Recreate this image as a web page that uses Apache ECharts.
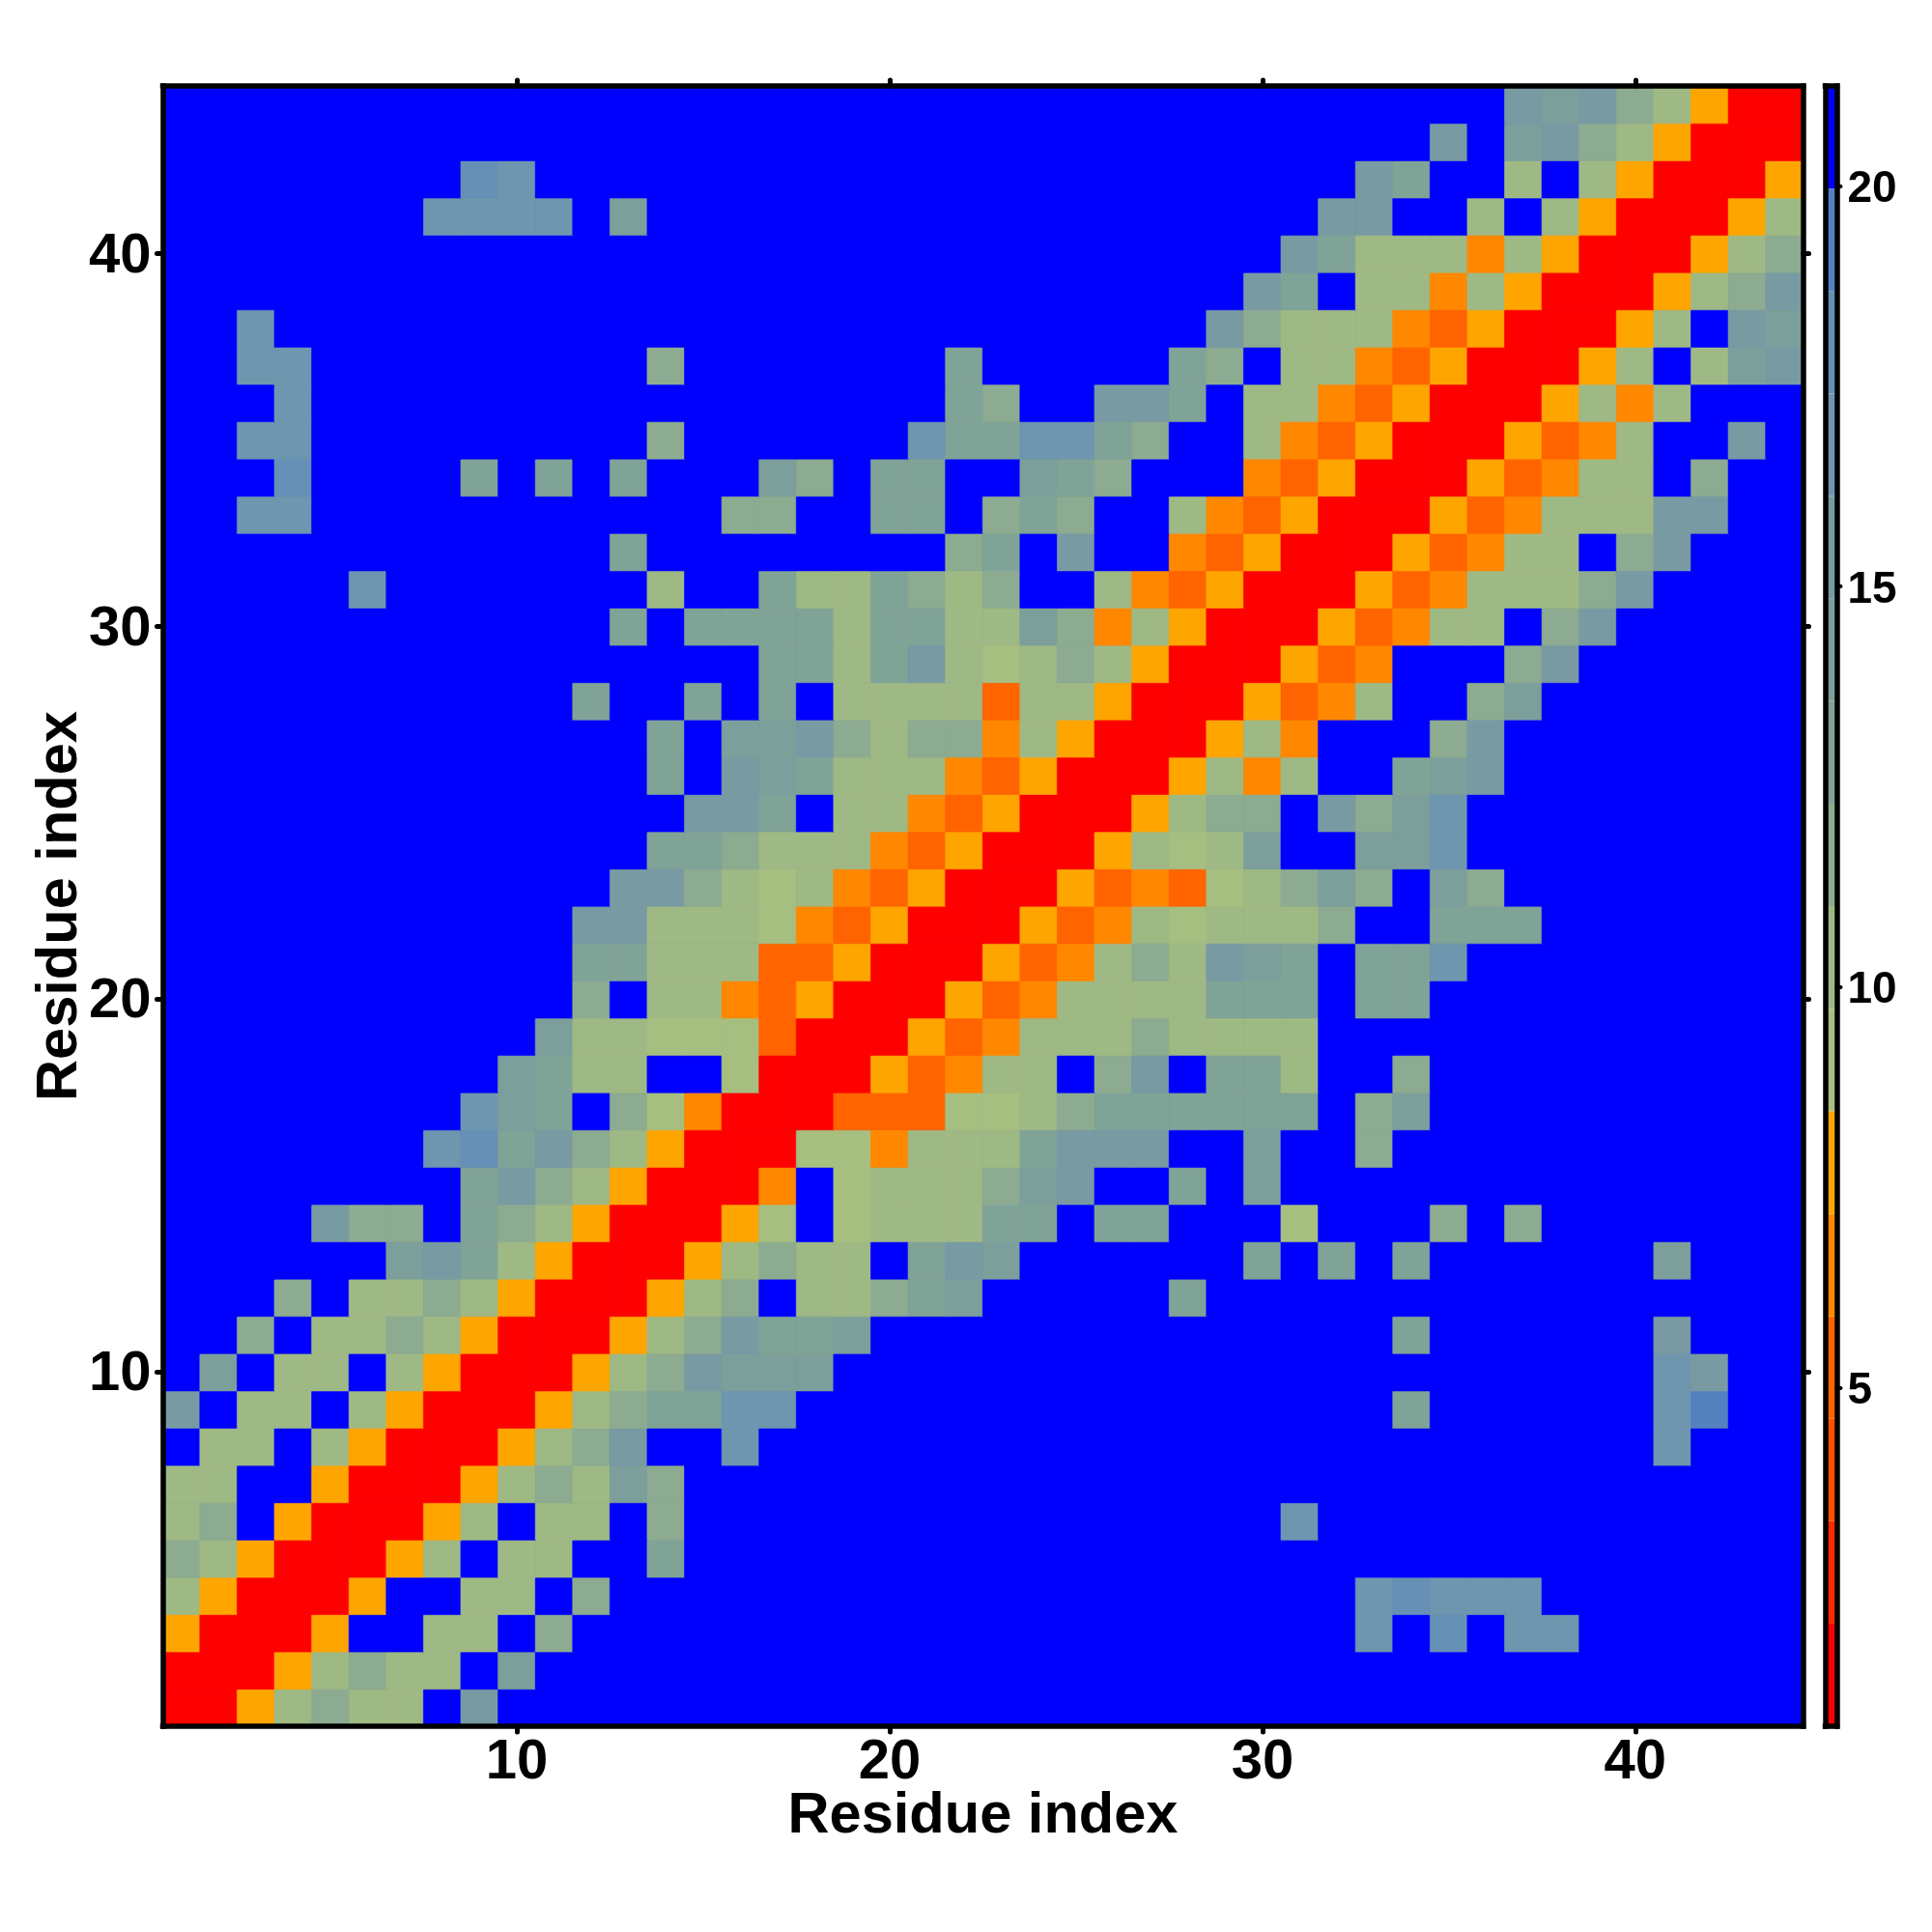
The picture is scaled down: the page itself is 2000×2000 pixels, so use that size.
<!DOCTYPE html>
<html>
<head>
<meta charset="utf-8">
<script src="https://cdn.jsdelivr.net/npm/echarts@6/dist/echarts.min.js"></script>
<style>html,body{margin:0;padding:0;background:#fff}#c{width:2000px;height:2000px}</style>
</head>
<body>
<div id="c"></div>
<script>
const b = 21;
// Distance map rows, read top (residue 44) to bottom (residue 1)
const y44=[b,b,b,b,b,b,b,b,b,b, b,b,b,b,b,b,b,b,b,b, b,b,b,b,b,b,b,b,b,b, b,b,b,b,b,b,15,14,15,12, 10,8,1,1];
const y43=[b,b,b,b,b,b,b,b,b,b, b,b,b,b,b,b,b,b,b,b, b,b,b,b,b,b,b,b,b,b, b,b,b,b,15,b,14,15,12,10, 8,1,1,1];
const y42=[b,b,b,b,b,b,b,b,18,17, b,b,b,b,b,b,b,b,b,b, b,b,b,b,b,b,b,b,b,b, b,b,15,13,b,b,10,b,10,8, 1,1,1,8];
const y41=[b,b,b,b,b,b,b,17,17,17, 17,b,14,b,b,b,b,b,b,b, b,b,b,b,b,b,b,b,b,b, b,15,15,b,b,10,b,10,8,1, 1,1,8,10];
const y40=[b,b,b,b,b,b,b,b,b,b, b,b,b,b,b,b,b,b,b,b, b,b,b,b,b,b,b,b,b,b, 15,13,10,10,10,7,10,8,1,1, 1,8,10,12];
const y39=[b,b,b,b,b,b,b,b,b,b, b,b,b,b,b,b,b,b,b,b, b,b,b,b,b,b,b,b,b,15, 13,b,10,10,7,10,8,1,1,1, 8,10,12,15];
const y38=[b,b,17,b,b,b,b,b,b,b, b,b,b,b,b,b,b,b,b,b, b,b,b,b,b,b,b,b,15,12, 10,10,10,7,5,8,1,1,1,8, 10,b,15,14];
const y37=[b,b,17,17,b,b,b,b,b,b, b,b,b,12,b,b,b,b,b,b, b,13,b,b,b,b,b,13,12,b, 10,10,7,5,8,1,1,1,8,10, b,10,14,15];
const y36=[b,b,b,17,b,b,b,b,b,b, b,b,b,b,b,b,b,b,b,b, b,13,12,b,b,15,15,13,b,10, 10,7,5,8,1,1,1,8,10,7, 10,b,b,b];
const y35=[b,b,17,17,b,b,b,b,b,b, b,b,b,12,b,b,b,b,b,b, 17,13,13,17,17,13,12,b,b,10, 7,5,8,1,1,1,8,5,7,10, b,b,15,b];
const y34=[b,b,b,18,b,b,b,b,13,b, 13,b,13,b,b,b,14,12,b,13, 13,b,b,14,13,12,b,b,b,7, 5,8,1,1,1,8,5,7,10,10, b,12,b,b];
const y33=[b,b,17,17,b,b,b,b,b,b, b,b,b,b,b,12,12,b,b,13, 13,b,12,13,12,b,b,10,7,5, 8,1,1,1,8,5,7,10,10,10, 15,15,b,b];
const y32=[b,b,b,b,b,b,b,b,b,b, b,b,13,b,b,b,b,b,b,b, b,12,13,b,15,b,b,7,5,8, 1,1,1,8,5,7,10,10,b,12, 15,b,b,b];
const y31=[b,b,b,b,b,17,b,b,b,b, b,b,b,10,b,b,13,10,10,13, 12,10,12,b,b,10,7,5,8,1, 1,1,8,5,7,10,10,10,12,15, b,b,b,b];
const y30=[b,b,b,b,b,b,b,b,b,b, b,b,13,b,13,13,13,13,10,13, 13,10,10,14,12,7,10,8,1,1, 1,8,5,7,10,10,b,12,15,b, b,b,b,b];
const y29=[b,b,b,b,b,b,b,b,b,b, b,b,b,b,b,b,13,13,10,13, 15,10,9,10,12,10,8,1,1,1, 8,5,7,b,b,b,12,15,b,b, b,b,b,b];
const y28=[b,b,b,b,b,b,b,b,b,b, b,13,b,b,13,b,13,b,10,10, 10,10,5,10,10,8,1,1,1,8, 5,7,10,b,b,12,14,b,b,b, b,b,b,b];
const y27=[b,b,b,b,b,b,b,b,b,b, b,b,b,13,b,14,14,15,12,10, 12,12,7,10,8,1,1,1,8,10, 7,b,b,b,12,15,b,b,b,b, b,b,b,b];
const y26=[b,b,b,b,b,b,b,b,b,b, b,b,b,13,b,15,14,13,10,10, 10,7,5,8,1,1,1,8,10,7, 10,b,b,13,14,15,b,b,b,b, b,b,b,b];
const y25=[b,b,b,b,b,b,b,b,b,b, b,b,b,b,15,15,13,b,10,10, 7,5,8,1,1,1,8,10,12,12, b,15,12,14,17,b,b,b,b,b, b,b,b,b];
const y24=[b,b,b,b,b,b,b,b,b,b, b,b,b,13,13,12,10,10,10,7, 5,8,1,1,1,8,10,9,10,14, b,b,14,14,17,b,b,b,b,b, b,b,b,b];
const y23=[b,b,b,b,b,b,b,b,b,b, b,b,15,15,12,10,9,10,7,5, 8,1,1,1,8,5,7,5,9,10, 12,14,12,b,14,12,b,b,b,b, b,b,b,b];
const y22=[b,b,b,b,b,b,b,b,b,b, b,15,15,10,10,10,9,7,5,8, 1,1,1,8,5,7,10,9,10,10, 10,12,b,b,13,13,13,b,b,b, b,b,b,b];
const y21=[b,b,b,b,b,b,b,b,b,b, b,13,13,10,10,10,5,5,8,1, 1,1,8,5,7,10,12,10,15,14, 13,b,13,13,17,b,b,b,b,b, b,b,b,b];
const y20=[b,b,b,b,b,b,b,b,b,b, b,12,b,10,10,7,5,8,1,1, 1,8,5,7,10,10,10,10,13,13, 13,b,13,13,b,b,b,b,b,b, b,b,b,b];
const y19=[b,b,b,b,b,b,b,b,b,b, 14,10,10,9,9,9,5,1,1,1, 8,5,7,10,10,10,12,10,10,10, 10,b,b,b,b,b,b,b,b,b, b,b,b,b];
const y18=[b,b,b,b,b,b,b,b,b,14, 13,10,10,b,b,9,1,1,1,8, 5,7,10,10,b,12,15,b,13,13, 10,b,b,12,b,b,b,b,b,b, b,b,b,b];
const y17=[b,b,b,b,b,b,b,b,17,14, 13,b,12,9,7,1,1,1,5,5, 5,9,9,10,12,13,13,13,13,13, 13,b,12,14,b,b,b,b,b,b, b,b,b,b];
const y16=[b,b,b,b,b,b,b,17,18,13, 15,12,10,8,1,1,1,9,9,7, 10,10,10,13,15,15,15,b,b,14, b,b,12,b,b,b,b,b,b,b, b,b,b,b];
const y15=[b,b,b,b,b,b,b,b,13,15, 12,10,8,1,1,1,7,b,9,10, 10,10,12,14,15,b,b,13,b,14, b,b,b,b,b,b,b,b,b,b, b,b,b,b];
const y14=[b,b,b,b,15,12,12,b,13,12, 10,8,1,1,1,8,9,b,9,10, 10,10,13,13,b,13,13,b,b,b, 9,b,b,b,12,b,12,b,b,b, b,b,b,b];
const y13=[b,b,b,b,b,b,14,15,13,10, 8,1,1,1,8,10,12,10,10,b, 13,15,14,b,b,b,b,b,b,13, b,13,b,13,b,b,b,b,b,b, 14,b,b,b];
const y12=[b,b,b,12,b,10,10,12,10,8, 1,1,1,8,10,12,b,10,10,12, 13,14,b,b,b,b,b,13,b,b, b,b,b,b,b,b,b,b,b,b, b,b,b,b];
const y11=[b,b,12,b,10,10,12,10,8,1, 1,1,8,10,12,15,13,13,14,b, b,b,b,b,b,b,b,b,b,b, b,b,b,13,b,b,b,b,b,b, 15,b,b,b];
const y10=[b,14,b,10,10,b,10,8,1,1, 1,8,10,12,15,14,14,14,b,b, b,b,b,b,b,b,b,b,b,b, b,b,b,b,b,b,b,b,b,b, 17,15,b,b];
const y09=[15,b,10,10,b,10,8,1,1,1, 8,10,12,13,13,17,17,b,b,b, b,b,b,b,b,b,b,b,b,b, b,b,b,13,b,b,b,b,b,b, 17,19,b,b];
const y08=[b,10,10,b,10,8,1,1,1,8, 10,12,15,b,b,17,b,b,b,b, b,b,b,b,b,b,b,b,b,b, b,b,b,b,b,b,b,b,b,b, 17,b,b,b];
const y07=[10,10,b,b,8,1,1,1,8,10, 12,10,14,12,b,b,b,b,b,b, b,b,b,b,b,b,b,b,b,b, b,b,b,b,b,b,b,b,b,b, b,b,b,b];
const y06=[10,12,b,8,1,1,1,8,10,b, 10,10,b,12,b,b,b,b,b,b, b,b,b,b,b,b,b,b,b,b, 17,b,b,b,b,b,b,b,b,b, b,b,b,b];
const y05=[12,10,8,1,1,1,8,10,b,10, 10,b,b,13,b,b,b,b,b,b, b,b,b,b,b,b,b,b,b,b, b,b,b,b,b,b,b,b,b,b, b,b,b,b];
const y04=[10,8,1,1,1,8,b,b,10,10, b,12,b,b,b,b,b,b,b,b, b,b,b,b,b,b,b,b,b,b, b,b,17,18,17,17,17,b,b,b, b,b,b,b];
const y03=[8,1,1,1,8,b,b,10,10,b, 12,b,b,b,b,b,b,b,b,b, b,b,b,b,b,b,b,b,b,b, b,b,17,b,18,b,17,17,b,b, b,b,b,b];
const y02=[1,1,1,8,10,12,10,10,b,14, b,b,b,b,b,b,b,b,b,b, b,b,b,b,b,b,b,b,b,b, b,b,b,b,b,b,b,b,b,b, b,b,b,b];
const y01=[1,1,8,10,12,10,10,b,15,b, b,b,b,b,b,b,b,b,b,b, b,b,b,b,b,b,b,b,b,b, b,b,b,b,b,b,b,b,b,b, b,b,b,b];

const rowsBottomUp=[y01,y02,y03,y04,y05,y06,y07,y08,y09,y10,y11,y12,y13,y14,y15,y16,y17,y18,y19,y20,y21,y22,y23,y24,y25,y26,y27,y28,y29,y30,y31,y32,y33,y34,y35,y36,y37,y38,y39,y40,y41,y42,y43,y44];
const residues=rowsBottomUp.map((_,i)=>String(i+1));
const axisTicks=['10','20','30','40'];
const barTicks=[5,10,15,20];
// Colour key: 16 equal steps between these edges
const barEdges=[0.77,2.05,3.33,4.61,5.89,7.17,8.45,9.73,11.01,12.29,13.57,14.85,16.13,17.41,18.69,19.97,21.25];
const barColours=['#ff0000','#ff2800','#ff5000','#ff6400','#ff8800','#ffa500','#a6bf80','#9fb985','#8cab90','#80a397','#7c9f9b','#789aa3','#6e96ae','#6690b5','#5482bf','#0000ff'];

const colourOf=v=>barColours[barEdges.findIndex((e,i)=>v>=e&&v<barEdges[i+1])];
const data=[];
rowsBottomUp.forEach((row,y)=>row.forEach((v,x)=>data.push({value:[x,y,v],itemStyle:{borderColor:colourOf(v),borderWidth:0.6}})));
const pieces=barColours.map((c,i)=>({gte:barEdges[i],lt:barEdges[i+1],color:c}));
const barData=barColours.map((c,i)=>[barEdges[i],barEdges[i+1],i]);

const FONT='"Liberation Sans", Arial, sans-serif';
const showTick=(i,v)=>axisTicks.includes(String(v));
const frame={show:true,onZero:false,lineStyle:{color:'#000',width:5.5,cap:'square'}};
const tick={show:true,alignWithLabel:true,interval:showTick,length:6,inside:false,lineStyle:{color:'#000',width:5,cap:'round'}};
const noTick={show:false};
const title={fontFamily:FONT,fontWeight:'bold',fontSize:59.6,color:'#000'};
const tickLabel={show:true,interval:showTick,fontFamily:FONT,fontWeight:'bold',fontSize:58,color:'#000'};

const chart=echarts.init(document.getElementById('c'),null,{renderer:'canvas'});
chart.setOption({
  animation:false,
  backgroundColor:'#fff',
  grid:[
    {left:168.5,top:89,width:1698,height:1698,containLabel:false,outerBoundsMode:'none',show:true,backgroundColor:'#0000ff',borderWidth:0},
    {left:1889.5,top:89,width:12,height:1698,containLabel:false,outerBoundsMode:'none'}
  ],
  xAxis:[
    {type:'category',gridIndex:0,position:'bottom',data:residues,z:5,axisLine:frame,axisTick:tick,splitLine:{show:false},
     axisLabel:{...tickLabel,margin:9},name:'Residue index',nameLocation:'middle',nameGap:63.5,nameMoveOverlap:false,nameTextStyle:title},
    {type:'category',gridIndex:0,position:'top',data:residues,z:5,axisLine:frame,axisTick:tick,splitLine:{show:false},axisLabel:{show:false}},
    {type:'value',gridIndex:1,position:'bottom',min:0,max:1,z:5,axisLine:frame,axisTick:noTick,splitLine:{show:false},axisLabel:{show:false}},
    {type:'value',gridIndex:1,position:'top',min:0,max:1,z:5,axisLine:frame,axisTick:noTick,splitLine:{show:false},axisLabel:{show:false}}
  ],
  yAxis:[
    {type:'category',gridIndex:0,position:'left',data:residues,z:5,axisLine:frame,axisTick:tick,splitLine:{show:false},
     axisLabel:{...tickLabel,margin:12,verticalAlign:'top',padding:[-26,0,0,0]},name:'Residue index',nameLocation:'middle',nameGap:75.5,nameRotate:90,nameMoveOverlap:false,nameTextStyle:title},
    {type:'category',gridIndex:0,position:'right',data:residues,z:5,axisLine:frame,axisTick:tick,splitLine:{show:false},axisLabel:{show:false}},
    {type:'value',gridIndex:1,position:'left',min:barEdges[0],max:barEdges[16],z:5,axisLine:frame,axisTick:noTick,splitLine:{show:false},axisLabel:{show:false}},
    {type:'value',gridIndex:1,position:'right',min:barEdges[0],max:barEdges[16],z:5,axisLine:frame,splitLine:{show:false},
     axisTick:{show:true,customValues:barTicks,length:4,lineStyle:{color:'#000',width:4,cap:'round'}},
     axisLabel:{show:true,customValues:barTicks,margin:11,verticalAlign:'top',padding:[-19,0,0,0],fontFamily:FONT,fontWeight:'bold',fontSize:46,color:'#000'}}
  ],
  visualMap:{show:false,type:'piecewise',seriesIndex:0,dimension:2,pieces:pieces},
  series:[
    {type:'heatmap',xAxisIndex:0,yAxisIndex:0,data:data,silent:true,progressive:0,emphasis:{disabled:true}},
    {type:'custom',xAxisIndex:2,yAxisIndex:2,data:barData,silent:true,clip:true,encode:{y:[0,1]},
     renderItem:(params,api)=>{
       const p0=api.coord([0,api.value(1)]);
       const p1=api.coord([1,api.value(0)]);
       return {type:'rect',shape:{x:p0[0],y:p0[1],width:p1[0]-p0[0],height:p1[1]-p0[1]},
               style:{fill:barColours[api.value(2)]}};
     }}
  ]
});
</script>
</body>
</html>
